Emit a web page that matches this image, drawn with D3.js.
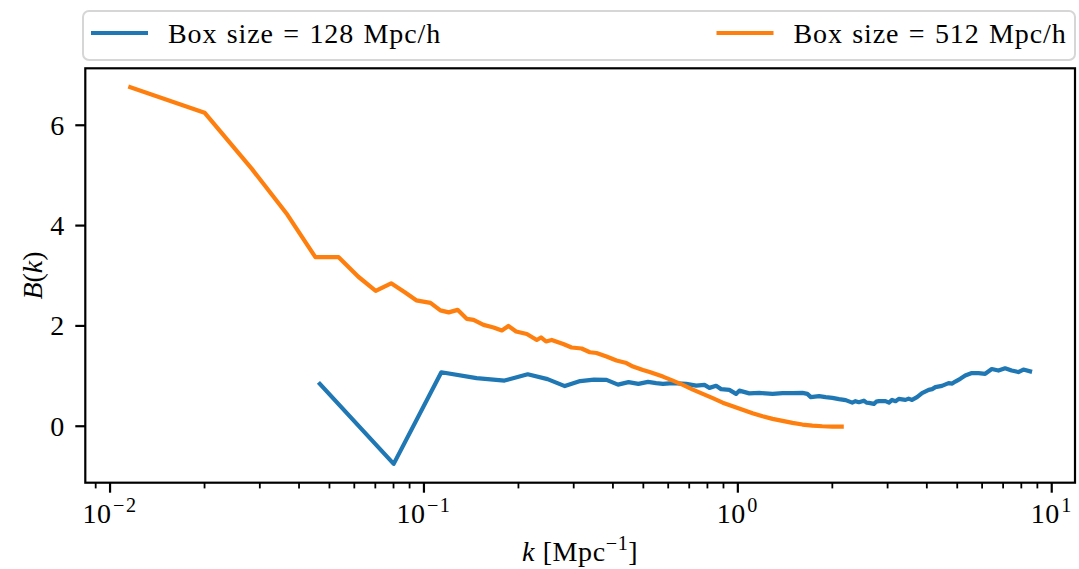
<!DOCTYPE html>
<html>
<head>
<meta charset="utf-8">
<script src="https://cdn.jsdelivr.net/npm/d3@7"></script>
<style>
  body { margin: 0; background: #fff; }
  text { font-family: "Liberation Serif", "DejaVu Serif", serif; fill: #000; }
</style>
</head>
<body>
<svg id="chart" width="1079" height="569"></svg>
<script>
// Bispectrum-like statistic B(k) for two simulation box sizes.
const kBox128 = [0.0466, 0.0801, 0.1136, 0.1471, 0.1806, 0.2141, 0.2476, 0.2811, 0.3146, 0.3481,
  0.3816, 0.4151, 0.4486, 0.4821, 0.5173, 0.5491, 0.5771, 0.6209, 0.6848, 0.7366,
  0.7828, 0.8119, 0.8526, 0.8844, 0.9397, 0.9869, 1.011, 1.088, 1.170, 1.290,
  1.388, 1.493, 1.606, 1.665, 1.708, 1.814, 1.905, 2.000, 2.100, 2.206,
  2.314, 2.370, 2.430, 2.521, 2.570, 2.616, 2.713, 2.760, 2.813, 2.954, 3.030, 3.100, 3.180, 3.256, 3.420,
  3.500, 3.589, 3.723, 3.862, 4.055, 4.160, 4.259, 4.469, 4.693, 4.820, 4.929, 5.112, 5.302,
  5.565, 5.845, 6.138, 6.442, 6.765, 7.103, 7.454, 7.830, 8.121, 8.527];
const bBox128 = [0.845, -0.75, 1.076, 0.96, 0.91, 1.035, 0.94, 0.80, 0.90, 0.93,
  0.925, 0.83, 0.88, 0.845, 0.885, 0.86, 0.845, 0.86, 0.845, 0.81,
  0.825, 0.765, 0.805, 0.74, 0.725, 0.645, 0.71, 0.655, 0.665, 0.645,
  0.66, 0.66, 0.665, 0.645, 0.58, 0.60, 0.58, 0.565, 0.54, 0.52,
  0.47, 0.50, 0.48, 0.51, 0.47, 0.465, 0.445, 0.49, 0.50, 0.50, 0.47, 0.525, 0.50, 0.545, 0.525,
  0.55, 0.525, 0.58, 0.66, 0.725, 0.74, 0.78, 0.805, 0.86, 0.85, 0.89, 0.945, 1.01,
  1.06, 1.06, 1.045, 1.14, 1.11, 1.155, 1.11, 1.08, 1.13, 1.095];

const kBox512 = [0.0116, 0.0200, 0.0283, 0.0367, 0.0451, 0.0535, 0.0618, 0.0702, 0.0786, 0.0869,
  0.0945, 0.1049, 0.1128, 0.1199, 0.1280, 0.1371, 0.1439, 0.1548, 0.1666, 0.1771,
  0.1858, 0.1966, 0.2127, 0.2288, 0.2360, 0.2448, 0.2553, 0.2778, 0.2954, 0.3178,
  0.3377, 0.3546, 0.3815, 0.4106, 0.4417, 0.4634, 0.4985, 0.5236, 0.5771, 0.6209,
  0.6680, 0.7188, 0.7731, 0.8318, 0.8949, 0.9627, 1.0356, 1.114, 1.199, 1.290,
  1.388, 1.493, 1.606, 1.728, 1.858, 2.000, 2.142];
const bBox512 = [6.76, 6.25, 5.13, 4.22, 3.37, 3.37, 2.98, 2.70, 2.85, 2.67,
  2.51, 2.46, 2.31, 2.27, 2.32, 2.14, 2.12, 2.02, 1.97, 1.91,
  2.00, 1.89, 1.84, 1.72, 1.77, 1.69, 1.72, 1.64, 1.57, 1.55,
  1.475, 1.46, 1.39, 1.31, 1.26, 1.19, 1.12, 1.08, 0.99, 0.91,
  0.825, 0.73, 0.645, 0.56, 0.47, 0.40, 0.33, 0.26, 0.20, 0.147,
  0.107, 0.067, 0.034, 0.014, 0.0, -0.006, -0.006];

const seriesNames = ["Box size = 128 Mpc/h", "Box size = 512 Mpc/h"];
const seriesColors = ["#1f77b4", "#ff7f0e"];
const xTickExponents = [-2, -1, 0, 1];
const yTickValues = [0, 2, 4, 6];

const series = [
  { name: seriesNames[0], color: seriesColors[0], points: kBox128.map((k, i) => [k, bBox128[i]]) },
  { name: seriesNames[1], color: seriesColors[1], points: kBox512.map((k, i) => [k, bBox512[i]]) }
];

// plot area
const plotLeft = 85.3, plotRight = 1075, plotTop = 68.3, plotBottom = 482.7;
const FONT = 28;

// autoscale with 5% padding (log space for x)
const allK = kBox128.concat(kBox512);
const allB = bBox128.concat(bBox512);
const lk = d3.extent(allK).map(Math.log10);
const padK = (lk[1] - lk[0]) * 0.05;
const eb = d3.extent(allB);
const padB = (eb[1] - eb[0]) * 0.05;

const x = d3.scaleLog().domain([10 ** (lk[0] - padK), 10 ** (lk[1] + padK)]).range([plotLeft, plotRight]);
const y = d3.scaleLinear().domain([eb[0] - padB, eb[1] + padB]).range([plotBottom, plotTop]);

const svg = d3.select("#chart");

// data lines, clipped to the axes
svg.append("clipPath").attr("id", "plotclip")
  .append("rect").attr("x", plotLeft).attr("y", plotTop)
  .attr("width", plotRight - plotLeft).attr("height", plotBottom - plotTop);

const line = d3.line().x(d => x(d[0])).y(d => y(d[1]));
svg.append("g").attr("clip-path", "url(#plotclip)")
  .selectAll("path").data(series).join("path")
  .attr("d", d => line(d.points))
  .attr("fill", "none")
  .attr("stroke", d => d.color)
  .attr("stroke-width", 4.2)
  .attr("stroke-linejoin", "round")
  .attr("stroke-linecap", "square");

// x axis: log ticks with minor ticks
const [d0, d1] = x.domain();
const minorTicks = [];
for (let e = Math.floor(Math.log10(d0)); e <= Math.ceil(Math.log10(d1)); e++) {
  for (let m = 2; m <= 9; m++) {
    const v = m * 10 ** e;
    if (v >= d0 && v <= d1) minorTicks.push(v);
  }
}
const xAxis = svg.append("g").attr("transform", `translate(0,${plotBottom})`);
xAxis.selectAll("line.minor").data(minorTicks).join("line")
  .attr("class", "minor")
  .attr("x1", d => x(d)).attr("x2", d => x(d))
  .attr("y1", 0).attr("y2", 5.7)
  .attr("stroke", "#000").attr("stroke-width", 1.8);
xAxis.selectAll("line.major").data(xTickExponents).join("line")
  .attr("class", "major")
  .attr("x1", d => x(10 ** d)).attr("x2", d => x(10 ** d))
  .attr("y1", 0).attr("y2", 10)
  .attr("stroke", "#000").attr("stroke-width", 2.2);
const xLabels = xAxis.selectAll("text").data(xTickExponents).join("text")
  .attr("x", d => x(10 ** d))
  .attr("y", 40)
  .attr("text-anchor", "middle")
  .attr("font-size", FONT);
xLabels.append("tspan").attr("letter-spacing", 0.5).text("10");
xLabels.append("tspan")
  .attr("dx", 1.5)
  .attr("dy", -11)
  .attr("letter-spacing", 1.5)
  .attr("font-size", FONT * 0.72)
  .text(d => d < 0 ? "\u2212" + Math.abs(d) : String(d));

// y axis
const yAxis = svg.append("g").attr("transform", `translate(${plotLeft},0)`);
yAxis.selectAll("line").data(yTickValues).join("line")
  .attr("x1", -10).attr("x2", 0)
  .attr("y1", d => y(d)).attr("y2", d => y(d))
  .attr("stroke", "#000").attr("stroke-width", 2.2);
yAxis.selectAll("text").data(yTickValues).join("text")
  .attr("x", -21)
  .attr("y", d => y(d) + 9.5)
  .attr("text-anchor", "end")
  .attr("font-size", FONT)
  .text(d => d);

// frame
svg.append("rect")
  .attr("x", plotLeft).attr("y", plotTop)
  .attr("width", plotRight - plotLeft).attr("height", plotBottom - plotTop)
  .attr("fill", "none").attr("stroke", "#000").attr("stroke-width", 2.2);

// axis labels
const xl = svg.append("text")
  .attr("x", (plotLeft + plotRight) / 2).attr("y", 561)
  .attr("text-anchor", "middle").attr("font-size", FONT)
  .attr("letter-spacing", 0.6);
xl.append("tspan").attr("font-style", "italic").text("k");
xl.append("tspan").text(" [Mpc");
xl.append("tspan").attr("dy", -11).attr("font-size", FONT * 0.72).text("\u22121");
xl.append("tspan").attr("dy", 11).text("]");

const yl = svg.append("text")
  .attr("transform", `translate(42,${(plotTop + plotBottom) / 2}) rotate(-90)`)
  .attr("text-anchor", "middle").attr("font-size", FONT);
yl.append("tspan").attr("font-style", "italic").text("B");
yl.append("tspan").text("(");
yl.append("tspan").attr("font-style", "italic").text("k");
yl.append("tspan").text(")");

// legend spanning the axes width
const legend = svg.append("g");
legend.append("rect")
  .attr("x", 83).attr("y", 11).attr("width", 992).attr("height", 49)
  .attr("rx", 6).attr("ry", 6)
  .attr("fill", "#fff").attr("stroke", "#d6d6d6").attr("stroke-width", 2);
const legendX = [91, 716.5];
const items = legend.selectAll("g.item").data(series).join("g")
  .attr("class", "item")
  .attr("transform", (d, i) => `translate(${legendX[i]},0)`);
items.append("line")
  .attr("x1", 0).attr("x2", 57).attr("y1", 33).attr("y2", 33)
  .attr("stroke", d => d.color).attr("stroke-width", 4.2);
items.append("text")
  .attr("x", 77).attr("y", 42.5)
  .attr("font-size", FONT)
  .attr("letter-spacing", 0.9)
  .attr("word-spacing", 1.5)
  .text(d => d.name);
</script>
</body>
</html>
